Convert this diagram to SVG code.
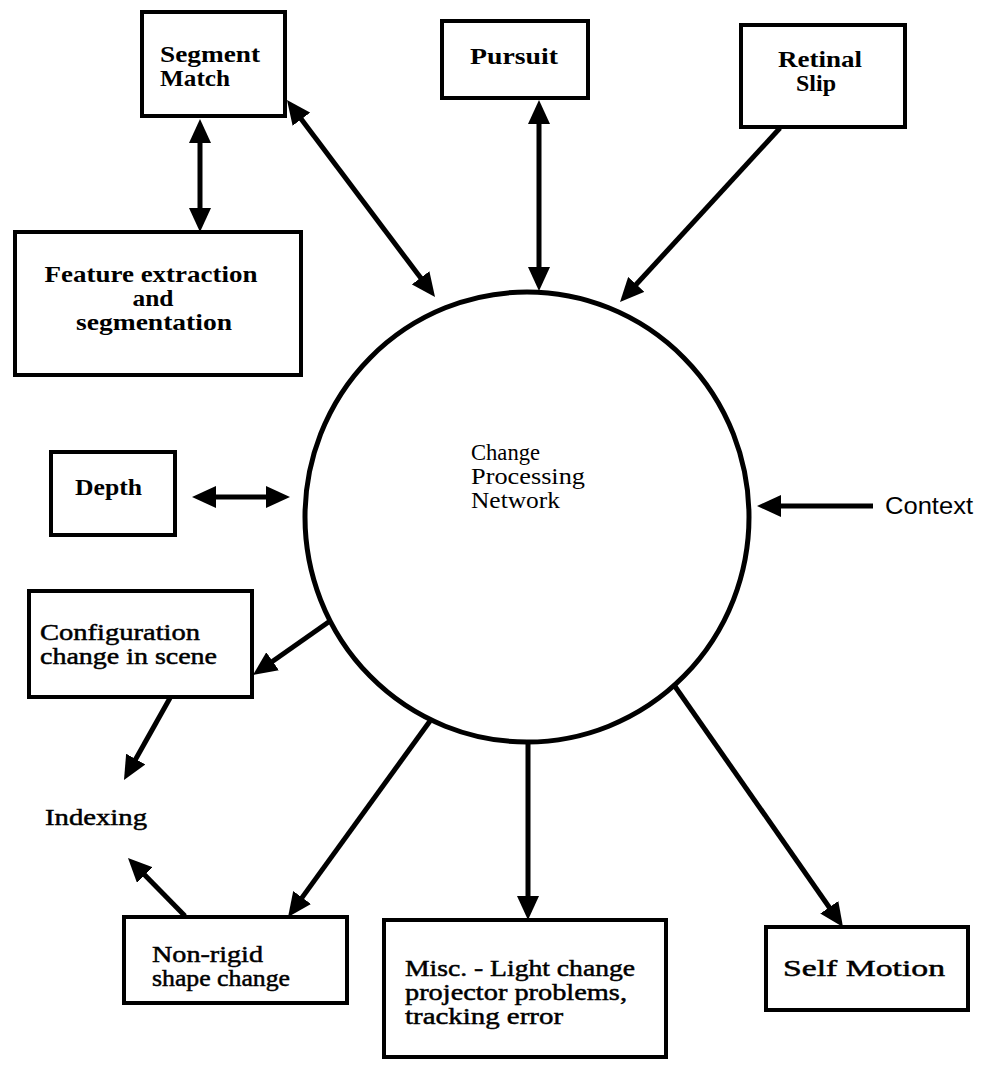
<svg xmlns="http://www.w3.org/2000/svg" width="984" height="1066" viewBox="0 0 984 1066">
  <style>
    .box { fill: #fff; stroke: #000; stroke-width: 4; }
    .hub { fill: #fff; stroke: #000; stroke-width: 5; }
    .wire { fill: none; stroke: #000; stroke-width: 5; }
    .lbl { font-family: "Liberation Serif", "Times New Roman", serif; font-size: 24px; fill: #000; }
    .strong { font-weight: bold; }
    .medium { stroke: #000; stroke-width: 0.5; }
    .hubtxt { font-family: "Liberation Serif", "Times New Roman", serif; font-size: 23px; fill: #000; }
    .sans { font-family: "Liberation Sans", Arial, sans-serif; font-size: 24px; fill: #000; }
  </style>
  <defs>
    <marker id="head" markerUnits="userSpaceOnUse" markerWidth="24" markerHeight="22" refX="6" refY="11" orient="auto-start-reverse">
      <path d="M0,0 L24,11 L0,22 z" fill="#000"/>
    </marker>
  </defs>

  <rect width="984" height="1066" fill="#fff"/>

  <!-- central hub -->
  <g id="change-processing-network">
    <ellipse class="hub" cx="527" cy="517" rx="222" ry="225"/>
    <text class="hubtxt" x="471" y="460" textLength="69" lengthAdjust="spacingAndGlyphs">Change</text>
    <text class="hubtxt" x="471" y="484" textLength="114" lengthAdjust="spacingAndGlyphs">Processing</text>
    <text class="hubtxt" x="471" y="508" textLength="89" lengthAdjust="spacingAndGlyphs">Network</text>
  </g>

  <!-- connectors -->
  <g id="connectors">
    <line class="wire" x1="200" y1="137" x2="200" y2="214" marker-start="url(#head)" marker-end="url(#head)"/>
    <line class="wire" x1="297.8" y1="114.4" x2="424.2" y2="282.6" marker-start="url(#head)" marker-end="url(#head)"/>
    <line class="wire" x1="539" y1="118" x2="539" y2="273" marker-start="url(#head)" marker-end="url(#head)"/>
    <line class="wire" x1="780" y1="128" x2="632.2" y2="288.8" marker-end="url(#head)"/>
    <line class="wire" x1="873" y1="506" x2="775" y2="506" marker-end="url(#head)"/>
    <line class="wire" x1="210" y1="497" x2="272" y2="497" marker-start="url(#head)" marker-end="url(#head)"/>
    <line class="wire" x1="330" y1="621" x2="267.7" y2="664.7" marker-end="url(#head)"/>
    <line class="wire" x1="170" y1="698" x2="132.8" y2="764.3" marker-end="url(#head)"/>
    <line class="wire" x1="185" y1="916" x2="140.6" y2="870.8" marker-end="url(#head)"/>
    <line class="wire" x1="430" y1="721" x2="298.6" y2="902.4" marker-end="url(#head)"/>
    <line class="wire" x1="528" y1="742" x2="528" y2="902" marker-end="url(#head)"/>
    <line class="wire" x1="674" y1="685" x2="832.7" y2="912.2" marker-end="url(#head)"/>
  </g>

  <g id="segment-match">
    <rect class="box" x="142" y="12" width="143" height="104"/>
    <text class="lbl strong" x="160" y="62" textLength="100" lengthAdjust="spacingAndGlyphs">Segment</text>
    <text class="lbl strong" x="160" y="86" textLength="70" lengthAdjust="spacingAndGlyphs">Match</text>
  </g>

  <g id="pursuit">
    <rect class="box" x="442" y="21" width="146" height="77"/>
    <text class="lbl strong" x="514" y="64" text-anchor="middle" textLength="88" lengthAdjust="spacingAndGlyphs">Pursuit</text>
  </g>

  <g id="retinal-slip">
    <rect class="box" x="741" y="25" width="164" height="102"/>
    <text class="lbl strong" x="820" y="67" text-anchor="middle" textLength="84" lengthAdjust="spacingAndGlyphs">Retinal</text>
    <text class="lbl strong" x="816" y="91" text-anchor="middle" textLength="40" lengthAdjust="spacingAndGlyphs">Slip</text>
  </g>

  <g id="feature-extraction">
    <rect class="box" x="15" y="232" width="286" height="143"/>
    <text class="lbl strong" x="151" y="282" text-anchor="middle" textLength="213" lengthAdjust="spacingAndGlyphs">Feature extraction</text>
    <text class="lbl strong" x="153" y="306" text-anchor="middle" textLength="41" lengthAdjust="spacingAndGlyphs">and</text>
    <text class="lbl strong" x="154" y="330" text-anchor="middle" textLength="156" lengthAdjust="spacingAndGlyphs">segmentation</text>
  </g>

  <g id="depth">
    <rect class="box" x="51" y="452" width="124" height="83"/>
    <text class="lbl strong" x="75" y="495" textLength="67" lengthAdjust="spacingAndGlyphs">Depth</text>
  </g>

  <g id="context">
    <text class="sans" x="885" y="514" textLength="88" lengthAdjust="spacingAndGlyphs">Context</text>
  </g>

  <g id="configuration-change">
    <rect class="box" x="29" y="591" width="223" height="106"/>
    <text class="lbl medium" x="40" y="640" textLength="160" lengthAdjust="spacingAndGlyphs">Configuration</text>
    <text class="lbl medium" x="40" y="664" textLength="177" lengthAdjust="spacingAndGlyphs">change in scene</text>
  </g>

  <g id="indexing">
    <text class="lbl medium" x="45" y="825" textLength="102" lengthAdjust="spacingAndGlyphs">Indexing</text>
  </g>

  <g id="non-rigid">
    <rect class="box" x="124" y="917" width="223" height="86"/>
    <text class="lbl medium" x="152" y="962" textLength="111" lengthAdjust="spacingAndGlyphs">Non-rigid</text>
    <text class="lbl medium" x="152" y="986" textLength="138" lengthAdjust="spacingAndGlyphs">shape change</text>
  </g>

  <g id="misc">
    <rect class="box" x="384" y="920" width="282" height="137"/>
    <text class="lbl medium" x="405" y="976" textLength="230" lengthAdjust="spacingAndGlyphs">Misc. - Light change</text>
    <text class="lbl medium" x="405" y="1000" textLength="222" lengthAdjust="spacingAndGlyphs">projector problems,</text>
    <text class="lbl medium" x="405" y="1024" textLength="158" lengthAdjust="spacingAndGlyphs">tracking error</text>
  </g>

  <g id="self-motion">
    <rect class="box" x="766" y="927" width="202" height="83"/>
    <text class="lbl medium" x="783" y="976" textLength="162" lengthAdjust="spacingAndGlyphs">Self Motion</text>
  </g>
</svg>
